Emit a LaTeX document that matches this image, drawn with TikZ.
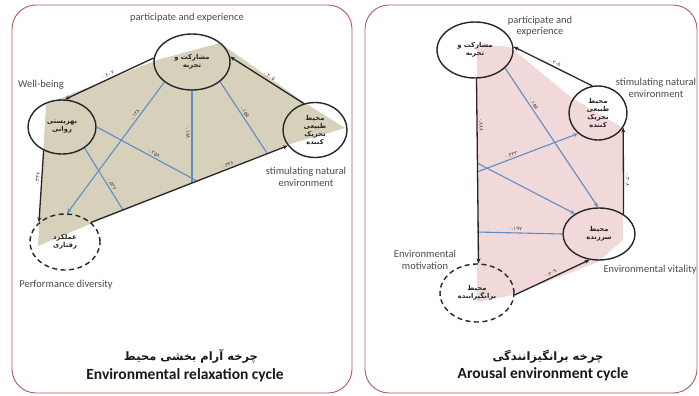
\documentclass[tikz,border=0pt]{standalone}
\usepackage{fontspec}
\setmainfont{Carlito}
\newfontfamily\arabicfont[Script=Arabic]{DejaVu Sans}
\newfontfamily\numfont{DejaVu Sans}
\TeXXeTstate=1
\usetikzlibrary{shapes.geometric,arrows.meta,calc}
\newcommand{\fa}[1]{\beginR #1\endR}
\definecolor{panelc}{RGB}{178,92,92}
\definecolor{tanc}{RGB}{215,209,187}
\definecolor{pinkc}{RGB}{242,217,217}
\definecolor{bluec}{RGB}{95,140,198}
\tikzset{
  circ/.style={ellipse, draw=black!85, line width=1.4pt, inner sep=0pt, align=center,
    font=\arabicfont\bfseries\fontsize{6.8}{8}\selectfont, text=black!85},
  blk/.style={draw=black!85, line width=1.3pt, -{Stealth[length=5pt,width=4pt]}},
  blu/.style={draw=bluec, line width=1.1pt},
  bluarr/.style={blu, -{Stealth[length=5pt,width=4pt]}},
  lbl/.style={font=\numfont\fontsize{5.3}{6}\selectfont, sloped, inner sep=1.8pt, text=black!75},
  eng/.style={font=\fontsize{10.5}{11.5}\selectfont, text=black!70, align=center},
  panel/.style={draw=panelc, line width=0.9pt, rounded corners=24pt, fill=white},
  ttlfa/.style={font=\arabicfont\bfseries\fontsize{11.5}{13}\selectfont, text=black!90},
  ttlen/.style={font=\bfseries\fontsize{15.5}{17}\selectfont, text=black!90},
}
\begin{document}
\begin{tikzpicture}[x=1pt,y=-1pt]
\useasboundingbox (0,0) rectangle (699,396);
\fill[white] (0,0) rectangle (699,396);
% panels
\draw[panel] (12,5) rectangle (352,393);
\draw[panel] (365,5) rectangle (697,393);

% ---------------- left panel ----------------
\fill[tanc] (46,104) -- (157,60) -- (220,43) -- (305,103) -- (345,128) -- (290,144)
  -- (90,224) -- (38,246) -- cycle;

\node[circ, minimum width=76pt, minimum height=56pt] (pe) at (192,62) {\fa{مشارکت و}\\\fa{تجربه}};
\node[circ, minimum width=68pt, minimum height=54pt] (wb) at (62,127) {\fa{بهزیستی}\\\fa{روانی}};
\node[circ, minimum width=64pt, minimum height=55pt] (sn) at (315,130) {\fa{محیط}\\\fa{طبیعی}\\\fa{تحریک}\\\fa{کننده}};
\node[circ, dashed, dash pattern=on 5pt off 3.5pt, minimum width=70pt, minimum height=56pt] (pd) at (65,242) {\fa{عملکرد}\\\fa{رفتاری}};

\node[eng] (tpe) at (187,18) {participate and experience};
\node[eng] (twb) at (41,85) {Well-being};
\node[eng] (tsn) at (306,177) {stimulating natural\\environment};
\node[eng] (tpd) at (66,285) {Performance diversity};
\node[ttlfa] (tl1) at (191,356) {\fa{چرخه آرام بخشی محیط}};
\node[ttlen] (tl2) at (185,375) {Environmental relaxation cycle};

\coordinate (b1) at (192,183);
\coordinate (c1) at (267,153);
\coordinate (d1) at (197,181);
\coordinate (e1) at (123,210);

\draw[bluarr] (pe.216) -- node[lbl, pos=0.27, above] {۰.۱۲۸} (pd.86);
\draw[blu] (pe.270) -- node[lbl, pos=0.45, below] {۰.۱۸۸} (b1);
\draw[blu] (pe.325) -- node[lbl, pos=0.45, above] {۰.۱۵۵} (c1);
\draw[blu] (wb.0) -- node[lbl, pos=0.55, above] {۰.۲۵۸} (d1);
\draw[blu] (wb.317) -- node[lbl, pos=0.62, above] {۰.۵۲۲} (e1);

\draw[blk] (pe.174) -- node[lbl, above] {۰.۶۰۷} (wb.84);
\draw[blk] (sn.113) -- node[lbl, above] {۰.۲۰۵} (pe.8);
\draw[blk] (wb.232) -- node[lbl, pos=0.4, above] {۰.۳۴۷} (pd.143);
\draw[blk] (pd.37) -- node[lbl, pos=0.7, above] {۰.۳۳۶} (sn.210);

% ---------------- right panel ----------------
\fill[pinkc] (477,44) -- (510,47) -- (572,98) -- (623,128) -- (623,240) -- (598,262)
  -- (513,295) -- (477,302) -- cycle;

\node[circ, minimum width=76pt, minimum height=56pt] (rpe) at (475,50) {\fa{مشارکت و}\\\fa{تجربه}};
\node[circ, minimum width=58pt, minimum height=54pt] (rsn) at (598,113) {\fa{محیط}\\\fa{طبیعی}\\\fa{تحریک}\\\fa{کننده}};
\node[circ, minimum width=72pt, minimum height=52pt] (rv) at (599,234) {\fa{محیط}\\\fa{سرزنده}};
\node[circ, dashed, dash pattern=on 5pt off 3.5pt, minimum width=74pt, minimum height=58pt] (rm) at (477,293) {\fa{محیط}\\\fa{برانگیزاننده}};

\node[eng] (rtpe) at (540,26) {participate and\\experience};
\node[eng] (rtsn) at (656,88) {stimulating natural\\environment};
\node[eng, anchor=west] (rtv) at (600,270) {Environmental vitality};
\node[eng] (rtm) at (425,260) {Environmental\\motivation};
\node[ttlfa] (tr1) at (548,357) {\fa{چرخه برانگیزانندگی}};
\node[ttlen] (tr2) at (543,374) {Arousal environment cycle};

\coordinate (rb1) at (477,172);
\coordinate (rc1) at (477,163);
\coordinate (rd1) at (477,232);

\draw[bluarr] (rpe.-31) -- node[lbl, pos=0.27, above] {۰.۱۵۵} (rv.92);
\draw[bluarr] (rb1) -- node[lbl, pos=0.35, above] {۰.۳۳۳} (rsn.226);
\draw[bluarr] (rc1) -- (rv.140);
\draw[blu] (rd1) -- node[lbl, pos=0.45, above] {۰.۱۹۷} (rv.180);

\draw[blk] (rsn.102) -- node[lbl, above] {۰.۲۰۵} (rpe.5);
\draw[blk] (rpe.-87) -- node[lbl, pos=0.25, above] {۰.۸۸۸} (rm.87);
\draw[blk] (rm.-3) -- node[lbl, above] {۰.۳۰۹} (rv.250);
\draw[blk] (rv.39) -- node[lbl, pos=0.4, above] {۰.۳۰۸} (rsn.-30);
\end{tikzpicture}
\end{document}
